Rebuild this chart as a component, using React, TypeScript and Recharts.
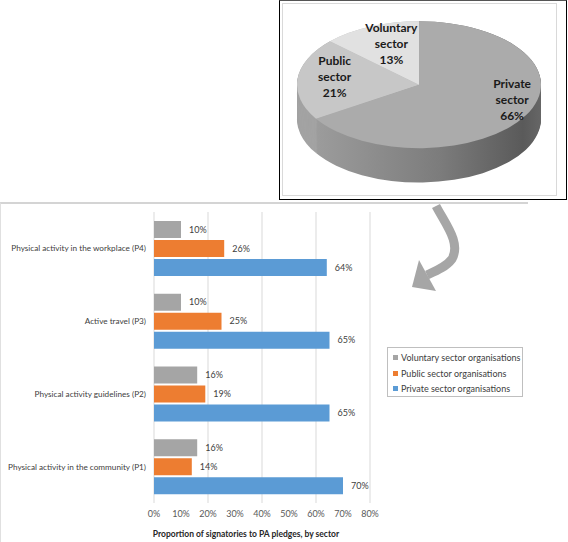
import {
  Bar,
  BarChart,
  CartesianGrid,
  Cell,
  Label,
  LabelList,
  Legend,
  Pie,
  PieChart,
  XAxis,
  YAxis,
} from "recharts";

// pie: share of signatories by sector
const sectors = ["Private sector", "Public sector", "Voluntary sector"];
const sectorShares = [66, 21, 13];

// bars: proportion of signatories to each PA pledge, by sector
const pledges = [
  "Physical activity in the workplace (P4)",
  "Active travel (P3)",
  "Physical activity guidelines (P2)",
  "Physical activity in the community (P1)",
];
const seriesNames = [
  "Voluntary sector organisations",
  "Public sector organisations",
  "Private sector organisations",
];
const voluntaryPct = [10, 10, 16, 16];
const publicPct = [26, 25, 19, 14];
const privatePct = [64, 65, 65, 70];
const pctTicks = [0, 10, 20, 30, 40, 50, 60, 70, 80];

const pieData = sectors.map((name, i) => ({ name, value: sectorShares[i] }));
const barData = pledges.map((name, i) => ({
  name,
  voluntary: voluntaryPct[i],
  public: publicPct[i],
  private: privatePct[i],
}));

const FONT = "Lato, 'DejaVu Sans', sans-serif";
const SQUASH = 0.52;
const PIE_W = 286;
const PIE_H = Math.round(200 / SQUASH);
const PIE_CX = 140;
const PIE_CY = Math.round(84.5 / SQUASH);
const PIE_R = 122;
const DEPTH = 66;
const sideLayers = Array.from({ length: DEPTH / 2 + 1 }, (_, i) => DEPTH - i * 2);

const topFill = ["#ababab", "#c7c7c7", "#e1e1e1"];
const sideFill = ["url(#pieSide)", "#a3a3a3", "#bdbdbd"];

const RAD = Math.PI / 180;

function PieLabel(props: any) {
  const { cx, cy, midAngle, outerRadius, index } = props;
  const r = outerRadius * 0.74;
  // nudge to the right and up, like the 3D perspective placement
  const x = cx + r * Math.cos(-midAngle * RAD) * 1.05 + 10;
  const y = cy + r * Math.sin(-midAngle * RAD) * 0.85 - 10;
  const [w1, w2] = sectors[index].split(" ");
  return (
    <text
      transform={`translate(${x} ${y}) scale(1 ${1 / SQUASH})`}
      textAnchor="middle"
      dominantBaseline="central"
      fontFamily={FONT}
      fontWeight={700}
      fontSize={12}
      fill="#1a1a1a"
    >
      <tspan x={0} y={-16}>{w1}</tspan>
      <tspan x={0} y={0}>{w2}</tspan>
      <tspan x={0} y={16}>{sectorShares[index]}%</tspan>
    </text>
  );
}

function PledgeTick(props: any) {
  const { x, y, payload } = props;
  return (
    <text x={x} y={y} textAnchor="end" dominantBaseline="central" fontFamily={FONT} fontSize={8.2} fill="#404040">
      {payload.value}
    </text>
  );
}

function LegendBox(props: any) {
  const items = [...(props.payload || [])].sort(
    (a: any, b: any) => seriesNames.indexOf(a.value) - seriesNames.indexOf(b.value)
  );
  return (
    <div
      style={{
        border: "1px solid #bfbfbf",
        background: "#fff",
        padding: "2px 2px 2px 5px",
        fontFamily: FONT,
        fontSize: 9,
        color: "#404040",
        boxSizing: "border-box",
        width: 136,
        height: 50,
        whiteSpace: "nowrap",
      }}
    >
      {items.map((it: any) => (
        <div key={it.value} style={{ display: "flex", alignItems: "center", height: 15.5 }}>
          <span style={{ width: 5, height: 5, background: it.color, marginRight: 3, flex: "none" }} />
          <span>{it.value}</span>
        </div>
      ))}
    </div>
  );
}

const valueLabel = { fill: "#404040", fontSize: 9, fontFamily: FONT };

export default function App() {
  return (
    <div style={{ position: "absolute", left: 0, top: 0, width: 568, height: 542, background: "#fff", overflow: "hidden" }}>
      {/* bar chart frame */}
      <div
        style={{
          position: "absolute",
          left: 0,
          top: 202,
          width: 527,
          height: 345,
          borderTop: "2px solid #d4d4d4",
          borderLeft: "1px solid #e0e0e0",
        }}
      />
      <div style={{ position: "absolute", left: 0, top: 203 }}>
        <BarChart
          width={527}
          height={339}
          data={barData}
          layout="vertical"
          margin={{ top: 9, right: 157, bottom: 0, left: 0 }}
          barCategoryGap={9}
          barGap={2}
        >
          <CartesianGrid horizontal={false} stroke="#d9d9d9" />
          <XAxis
            type="number"
            domain={[0, 80]}
            ticks={pctTicks}
            tickFormatter={(v: number) => `${v}%`}
            axisLine={false}
            tickLine={false}
            height={39}
            tick={{ fill: "#595959", fontSize: 9, fontFamily: FONT }}
          >
            <Label
              value="Proportion of signatories to PA pledges, by sector"
              position="insideBottom"
              offset={5}
              dx={-16}
              style={{ fill: "#262626", fontSize: 8.5, fontWeight: 700, fontFamily: FONT }}
            />
          </XAxis>
          <YAxis
            type="category"
            dataKey="name"
            width={154}
            axisLine={false}
            tickLine={false}
            tick={PledgeTick}
          />
          <Legend
            layout="vertical"
            align="center"
            verticalAlign="middle"
            wrapperStyle={{ left: 387, top: 144, width: 136 }}
            content={LegendBox}
          />
          <Bar dataKey="voluntary" name={seriesNames[0]} fill="#a5a5a5" isAnimationActive={false}>
            <LabelList dataKey="voluntary" position="right" offset={8} formatter={(v: any) => `${v}%`} style={valueLabel} />
          </Bar>
          <Bar dataKey="public" name={seriesNames[1]} fill="#ed7d31" isAnimationActive={false}>
            <LabelList dataKey="public" position="right" offset={8} formatter={(v: any) => `${v}%`} style={valueLabel} />
          </Bar>
          <Bar dataKey="private" name={seriesNames[2]} fill="#5b9bd5" isAnimationActive={false}>
            <LabelList dataKey="private" position="right" offset={8} formatter={(v: any) => `${v}%`} style={valueLabel} />
          </Bar>
        </BarChart>
      </div>

      {/* pie chart box */}
      <div
        style={{
          position: "absolute",
          left: 279,
          top: 0,
          width: 288,
          height: 200,
          border: "1px solid #000",
          borderTopColor: "#555",
          background: "#fff",
          boxSizing: "border-box",
        }}
      >
        <div
          style={{
            position: "absolute",
            left: 2,
            top: 2,
            width: 275,
            height: 193,
            border: "1px solid #d9d9d9",
            boxSizing: "border-box",
          }}
        />
      </div>
      <div
        style={{
          position: "absolute",
          left: 279,
          top: 0,
          width: PIE_W,
          height: PIE_H,
          transform: `scaleY(${SQUASH})`,
          transformOrigin: "0 0",
        }}
      >
        <PieChart width={PIE_W} height={PIE_H} margin={{ top: 0, right: 0, bottom: 0, left: 0 }}>
          <defs>
            <linearGradient id="pieSide" x1="0" y1="0" x2="1" y2="0">
              <stop offset="0%" stopColor="#9c9c9c" />
              <stop offset="55%" stopColor="#7c7c7c" />
              <stop offset="92%" stopColor="#5a5a5a" />
              <stop offset="100%" stopColor="#666666" />
            </linearGradient>
          </defs>
          {sideLayers.map((d) => (
            <Pie
              key={`side-${d}`}
              data={pieData}
              dataKey="value"
              cx={PIE_CX}
              cy={PIE_CY + d}
              outerRadius={PIE_R}
              startAngle={90}
              endAngle={-270}
              stroke="none"
              isAnimationActive={false}
            >
              {pieData.map((p, i) => (
                <Cell key={p.name} fill={sideFill[i]} stroke="none" />
              ))}
            </Pie>
          ))}
          <Pie
            data={pieData}
            dataKey="value"
            cx={PIE_CX}
            cy={PIE_CY}
            outerRadius={PIE_R}
            startAngle={90}
            endAngle={-270}
            stroke="none"
            label={PieLabel}
            labelLine={false}
            isAnimationActive={false}
          >
            {pieData.map((p, i) => (
              <Cell key={p.name} fill={topFill[i]} stroke="none" />
            ))}
          </Pie>
        </PieChart>
      </div>

      {/* curved arrow from pie to bars */}
      <svg width={568} height={542} style={{ position: "absolute", left: 0, top: 0, pointerEvents: "none" }}>
        <path
          d="M 436 206 C 446 225, 461 243, 452 259 C 446 267, 436 271, 427 275"
          fill="none"
          stroke="#a6a6a6"
          strokeWidth={9}
        />
        <polygon points="412,287 419,260 436,291" fill="#a6a6a6" />
      </svg>
    </div>
  );
}
